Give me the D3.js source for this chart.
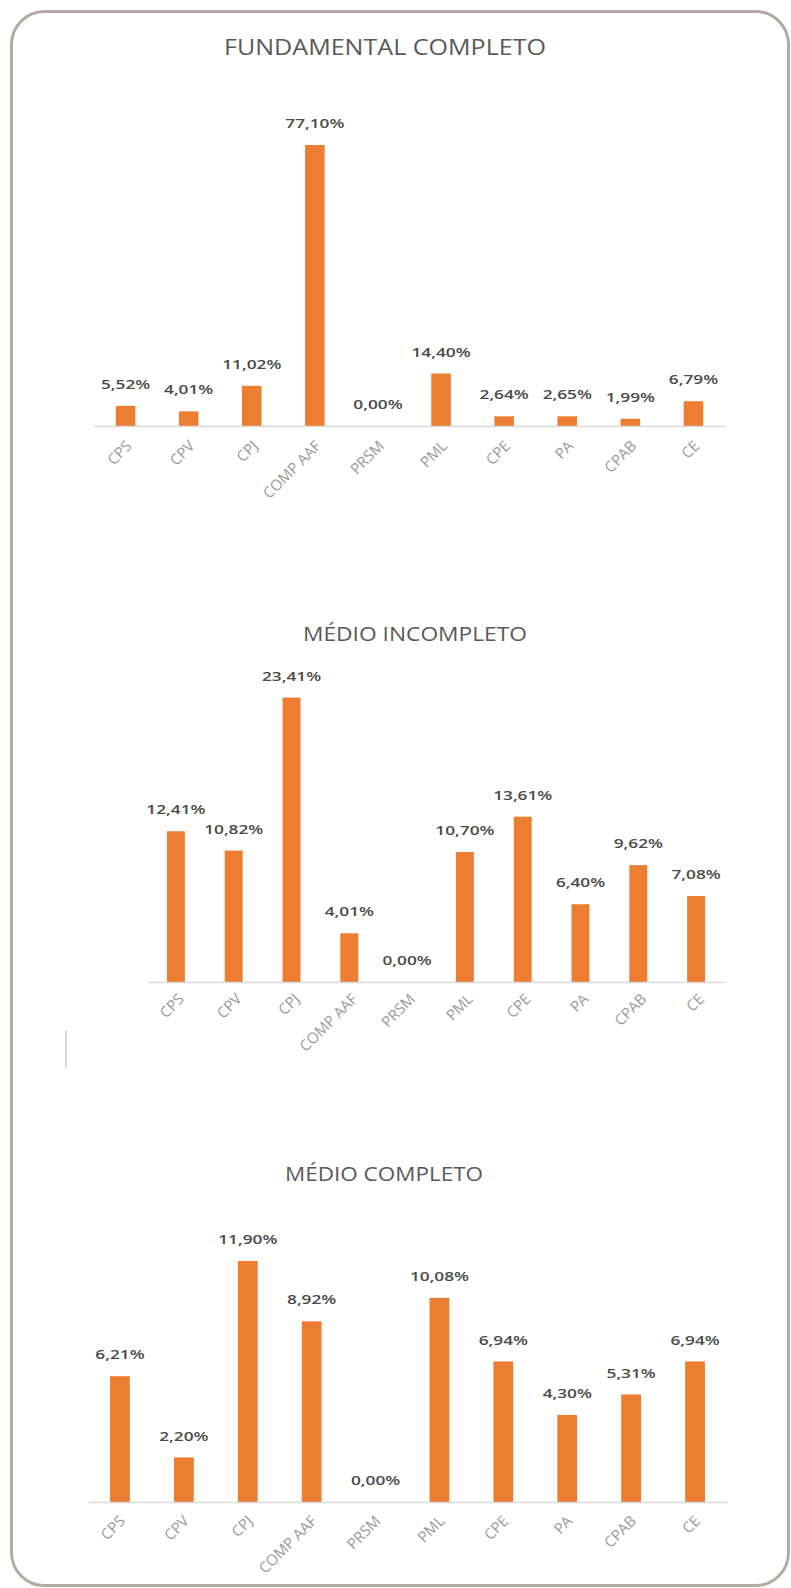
<!DOCTYPE html>
<html>
<head>
<meta charset="utf-8">
<script src="https://cdn.jsdelivr.net/npm/d3@7"></script>
<style>
  html, body { margin: 0; padding: 0; background: #ffffff; }
  svg { display: block; }
  text { font-family: "Open Sans", "DejaVu Sans", sans-serif; }
</style>
</head>
<body>
<svg id="chart" width="791" height="1588"></svg>
<script>
// ---- data ----
const categories = ["CPS", "CPV", "CPJ", "COMP AAF", "PRSM", "PML", "CPE", "PA", "CPAB", "CE"];
const fundamentalCompleto = [5.52, 4.01, 11.02, 77.10, 0.00, 14.40, 2.64, 2.65, 1.99, 6.79];
const medioIncompleto = [12.41, 10.82, 23.41, 4.01, 0.00, 10.70, 13.61, 6.40, 9.62, 7.08];
const medioCompleto = [6.21, 2.20, 11.90, 8.92, 0.00, 10.08, 6.94, 4.30, 5.31, 6.94];
const chartTitles = ["FUNDAMENTAL COMPLETO", "MÉDIO INCOMPLETO", "MÉDIO COMPLETO"];

// ---- layout (positions / styles only) ----
const panels = [
  { values: fundamentalCompleto, title: chartTitles[0], x0: 94, x1: 725, base: 426, top: 145,
    titleX: 385, titleY: 55, titleW: 322, titleSize: 22, labDx: 7, labDy: 21 },
  { values: medioIncompleto, title: chartTitles[1], x0: 147, x1: 725, base: 982, top: 697.6,
    titleX: 415, titleY: 641, titleW: 224, titleSize: 20, labDx: 9, labDy: 18 },
  { values: medioCompleto, title: chartTitles[2], x0: 88, x1: 727, base: 1502, top: 1261,
    titleX: 384, titleY: 1181, titleW: 198, titleSize: 20, labDx: 6, labDy: 20 }
];

const svg = d3.select("#chart");
const orange = "#ED7D31";
const fmt = v => d3.format(".2f")(v).replace(".", ",") + "%";

// outer rounded frame
svg.append("rect")
  .attr("x", 11.5).attr("y", 11.5)
  .attr("width", 777).attr("height", 1574)
  .attr("rx", 33).attr("ry", 33)
  .attr("fill", "none")
  .attr("stroke", "#b3aaa2")
  .attr("stroke-width", 3);

// small stray vertical edge near the second chart
svg.append("line")
  .attr("x1", 66).attr("x2", 66).attr("y1", 1030).attr("y2", 1068)
  .attr("stroke", "#cfcfcf").attr("stroke-width", 1.5);

panels.forEach(p => {
  const g = svg.append("g");
  const x = d3.scaleBand().domain(categories).range([p.x0, p.x1])
    .paddingInner(0.69).paddingOuter(0.345);
  const maxV = d3.max(p.values);
  const y = d3.scaleLinear().domain([0, maxV]).range([p.base, p.top]);
  const rows = categories.map((c, i) => ({ c, v: p.values[i] }));

  // title
  g.append("text")
    .attr("x", p.titleX).attr("y", p.titleY)
    .attr("text-anchor", "middle")
    .attr("font-size", p.titleSize)
    .attr("fill", "#595959")
    .attr("textLength", p.titleW)
    .attr("lengthAdjust", "spacingAndGlyphs")
    .text(p.title);

  // bars
  g.selectAll("rect.bar").data(rows).enter().append("rect")
    .attr("class", "bar")
    .attr("x", d => x(d.c))
    .attr("width", x.bandwidth())
    .attr("y", d => y(d.v))
    .attr("height", d => p.base - y(d.v))
    .attr("fill", orange);

  // axis line (domain only)
  const ax = g.append("g")
    .attr("transform", `translate(0,${p.base})`)
    .call(d3.axisBottom(x).tickSize(0).tickFormat(""));
  ax.select(".domain").attr("stroke", "#d9d9d9").attr("stroke-width", 1.5);

  // rotated category labels
  g.selectAll("g.clab").data(rows).enter().append("g")
    .attr("class", "clab")
    .attr("transform", d => `translate(${x(d.c) + x.bandwidth() / 2 + p.labDx},${p.base + p.labDy}) rotate(-45)`)
    .append("text")
    .attr("text-anchor", "end")
    .attr("font-size", 15)
    .attr("fill", "#9a9a9a")
    .text(d => d.c);

  // value labels
  g.selectAll("g.vlab").data(rows).enter().append("g")
    .attr("class", "vlab")
    .attr("transform", d => `translate(${x(d.c) + x.bandwidth() / 2},${y(d.v) - 22}) scale(1.33,1)`)
    .append("text")
    .attr("text-anchor", "middle")
    .attr("dominant-baseline", "central")
    .attr("font-size", 13)
    .attr("font-weight", 600)
    .attr("fill", "#4a4a4a")
    .text(d => fmt(d.v));
});
</script>
</body>
</html>
